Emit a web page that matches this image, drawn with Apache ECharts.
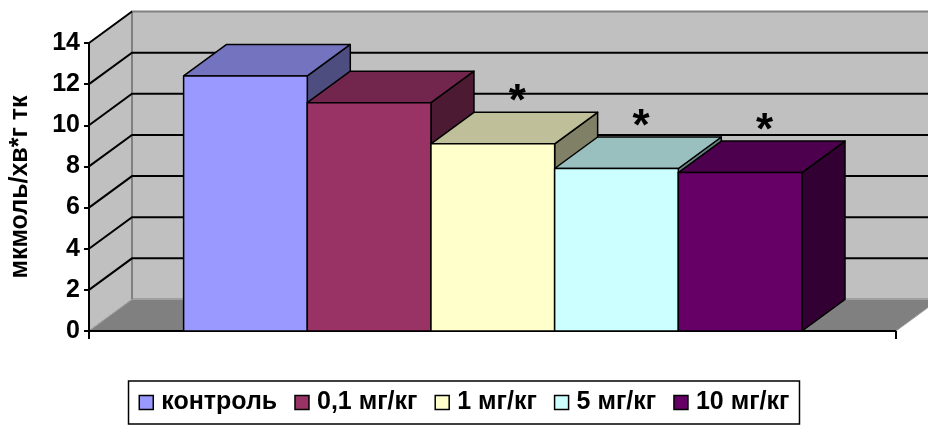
<!DOCTYPE html>
<html>
<head>
<meta charset="utf-8">
<script src="https://cdn.jsdelivr.net/npm/echarts@6/dist/echarts.min.js"></script>
<style>
  html, body { margin: 0; padding: 0; background: #fff; }
  #chart { width: 928px; height: 425px; }
</style>
</head>
<body>
<div id="chart"></div>
<script>
// Enzyme activity per dose group
const categories = ['контроль', '0,1 мг/кг', '1 мг/кг', '5 мг/кг', '10 мг/кг'];
const values = [12.4, 11.1, 9.1, 7.9, 7.7];
const marks = ['', '', '*', '*', '*'];
const axisName = 'мкмоль/хв*г тк';
const yMin = 0, yMax = 14, yStep = 2;

// Face colours of each column: front, top (shaded), side (darker)
const frontColors = ['#9999FF', '#993366', '#FFFFCC', '#CCFFFF', '#660066'];
const topColors   = ['#7373BF', '#73264D', '#BFBF99', '#99BFBF', '#4D004D'];
const sideColors  = ['#4D4D80', '#4D1A33', '#808066', '#668080', '#330033'];

// Oblique depth of the pseudo-3D box, in pixels
const DEPTH = [43, -31.5];
const FONT = '"Liberation Sans", Arial, sans-serif';
// Horizontal extent of the floor, in category units
const X_MIN = -1.265, X_MAX = 5.26;

const shift = pt => [pt[0] + DEPTH[0], pt[1] + DEPTH[1]];

function renderFrame(params, api) {
  const p = (x, y) => api.coord([x, y]);
  const a0 = p(X_MIN, yMin), a1 = p(X_MIN, yMax);
  const b0 = p(X_MAX, yMin), b1 = p(X_MAX, yMax);
  const children = [];
  // left side wall
  children.push({ type: 'polygon', shape: { points: [a0, a1, shift(a1), shift(a0)] },
    style: { fill: '#C0C0C0', stroke: '#808080', lineWidth: 1 } });
  // back wall
  children.push({ type: 'polygon', shape: { points: [shift(a0), shift(a1), shift(b1), shift(b0)] },
    style: { fill: '#C0C0C0', stroke: '#808080', lineWidth: 2 } });
  // floor
  children.push({ type: 'polygon', shape: { points: [a0, shift(a0), shift(b0), b0] },
    style: { fill: '#808080', stroke: '#A0A0A0', lineWidth: 1 } });
  // gridlines running across the side wall and the back wall
  for (let v = yMin + yStep; v <= yMax; v += yStep) {
    const f = p(X_MIN, v), g = p(X_MAX, v);
    const pts = v < yMax ? [f, shift(f), shift(g)] : [f, shift(f)];
    children.push({ type: 'polyline', shape: { points: pts },
      style: { stroke: '#000', lineWidth: 2, fill: null } });
  }
  // front edge of the floor with end ticks
  children.push({ type: 'polyline', shape: { points: [a0, b0] },
    style: { stroke: '#000', lineWidth: 2, fill: null } });
  [a0, b0].forEach(pt => children.push({ type: 'line',
    shape: { x1: pt[0], y1: pt[1], x2: pt[0], y2: pt[1] + 8 },
    style: { stroke: '#000', lineWidth: 2 } }));
  return { type: 'group', children };
}

function makeBarRenderer(i) {
  return function (params, api) {
    const x = api.value(0), v = api.value(1);
    const tl = api.coord([x - 0.5, v]);
    const br = api.coord([x + 0.5, yMin]);
    const tr = [br[0], tl[1]];
    const edge = { stroke: '#000', lineWidth: 1.5, lineJoin: 'round' };
    const children = [
      { type: 'polygon', shape: { points: [tr, br, shift(br), shift(tr)] },
        style: Object.assign({ fill: sideColors[i] }, edge) },
      { type: 'polygon', shape: { points: [tl, tr, shift(tr), shift(tl)] },
        style: Object.assign({ fill: topColors[i] }, edge) },
      { type: 'rect', shape: { x: tl[0], y: tl[1], width: br[0] - tl[0], height: br[1] - tl[1] },
        style: Object.assign({ fill: frontColors[i] }, edge) }
    ];
    if (marks[i]) {
      children.push({ type: 'text',
        x: (tl[0] + tr[0]) / 2 + DEPTH[0] / 2 + 3,
        y: tl[1] + DEPTH[1] / 2 - 25,
        style: { text: marks[i], fill: '#000', font: 'bold 44px ' + FONT,
          textAlign: 'center', textVerticalAlign: 'middle' } });
    }
    return { type: 'group', children };
  };
}

const chart = echarts.init(document.getElementById('chart'), null, { renderer: 'canvas' });

const barSeries = categories.map((name, i) => ({
  type: 'custom',
  name,
  z: 3,
  itemStyle: { color: frontColors[i] },
  data: [[i, values[i]]],
  renderItem: makeBarRenderer(i)
}));

chart.setOption({
  animation: false,
  backgroundColor: '#fff',
  grid: { left: 89, right: 32, top: 43, bottom: 94 },
  xAxis: { type: 'value', min: X_MIN, max: X_MAX, show: false },
  yAxis: {
    type: 'value', min: yMin, max: yMax, interval: yStep, z: 10,
    name: axisName, nameLocation: 'middle', nameGap: 56, nameRotate: 90,
    nameTextStyle: { fontFamily: FONT, fontWeight: 'bold', fontSize: 25, color: '#000' },
    axisLine: { show: true, onZero: false, lineStyle: { color: '#000', width: 2 } },
    axisTick: { show: true, length: 5, lineStyle: { color: '#000', width: 2 } },
    axisLabel: { fontFamily: FONT, fontWeight: 'bold', fontSize: 25, color: '#000', margin: 9 },
    splitLine: { show: false }
  },
  legend: {
    data: categories,
    left: 'center', bottom: 1,
    icon: 'rect', itemWidth: 14, itemHeight: 14, itemGap: 17,
    itemStyle: { borderColor: '#000', borderWidth: 1.5 },
    textStyle: { fontFamily: FONT, fontWeight: 'bold', fontSize: 25, color: '#000',
      padding: [0, 0, 0, 3] },
    backgroundColor: '#fff', borderColor: '#000', borderWidth: 1.5,
    padding: [9, 10, 9, 10],
    selectedMode: false
  },
  series: [
    { type: 'custom', name: 'frame', z: 1, silent: true, data: [[0, 0]], renderItem: renderFrame }
  ].concat(barSeries)
});
</script>
</body>
</html>
